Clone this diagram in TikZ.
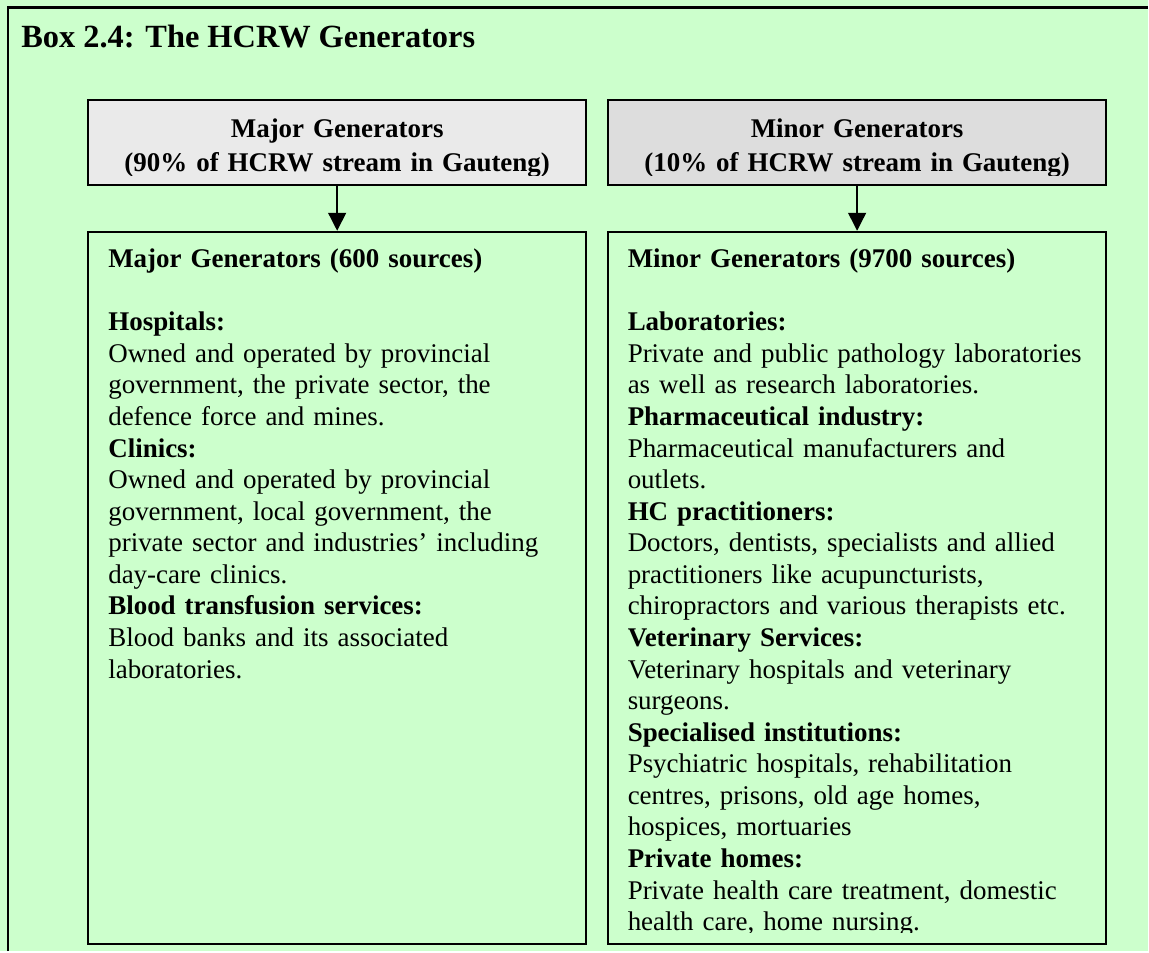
\documentclass[tikz,border=0pt]{standalone}
\usepackage{fontspec}
\setmainfont{Liberation Serif}
\usetikzlibrary{arrows.meta}

\definecolor{boxgreen}{HTML}{CCFFCC}
\definecolor{majorgray}{HTML}{EAEAEA}
\definecolor{minorgray}{HTML}{DDDDDD}
\newcommand\listfont{\fontsize{13.5pt}{15.8pt}\selectfont}

\begin{document}
\begin{tikzpicture}[x=0.5pt,y=-0.5pt,
  genbox/.style={draw,line width=1pt,inner sep=0pt,minimum width=249.5pt},
  listtext/.style={anchor=base west,inner sep=0pt,text width=245pt,align=left,font=\listfont},
  headtext/.style={anchor=base,inner sep=0pt,text width=245pt,align=center,
    font=\fontsize{13.5pt}{17pt}\selectfont\bfseries},
  down/.style={-{Triangle[width=9pt,length=9pt]},line width=0.7pt}]
\fill[boxgreen] (0,0) rectangle (1149,952);
\draw[line width=1.2pt] (8,952) -- (8,7.5) -- (1149,7.5);

\node[anchor=base west,inner sep=0pt,font=\fontsize{16.2pt}{18pt}\selectfont\bfseries]
  (title) at (21,47.5) {Box 2.4: The HCRW Generators};

% boxes
\node[genbox,fill=majorgray,minimum height=42.5pt] (majtop) at (337.5,142.5) {};
\node[genbox,fill=minorgray,minimum height=42.5pt] (mintop) at (858,142.5) {};
\node[genbox,minimum height=356.5pt] (majbox) at (337.5,588.5) {};
\node[genbox,minimum height=356.5pt] (minbox) at (858,588.5) {};

% headings, cut off at the bottom
\begin{scope}
\clip (88,100) rectangle (1107,175.5);
\node[headtext] (majhead) at (337.5,138) {Major Generators\\(90\% of HCRW stream in Gauteng)};
\node[headtext] (minhead) at (858,138) {Minor Generators\\(10\% of HCRW stream in Gauteng)};
\end{scope}

\draw[down] (majtop.south) -- (majbox.north);
\draw[down] (mintop.south) -- (minbox.north);

\node[listtext] (majlist) at (108,268) {\textbf{Major Generators (600 sources)}\\[15.8pt]
\textbf{Hospitals:}\\
Owned and operated by provincial\\
government, the private sector, the\\
defence force and mines.\\
\textbf{Clinics:}\\
Owned and operated by provincial\\
government, local government, the\\
private sector and industries’ including\\
day-care clinics.\\
\textbf{Blood transfusion services:}\\
Blood banks and its associated\\
laboratories.};

\begin{scope}
\clip (609,232) rectangle (1107,933.5);
\node[listtext] (minlist) at (628,268) {\textbf{Minor Generators (9700 sources)}\\[15.8pt]
\textbf{Laboratories:}\\
Private and public pathology laboratories\\
as well as research laboratories.\\
\textbf{Pharmaceutical industry:}\\
Pharmaceutical manufacturers and\\
outlets.\\
\textbf{HC practitioners:}\\
Doctors, dentists, specialists and allied\\
practitioners like acupuncturists,\\
chiropractors and various therapists etc.\\
\textbf{Veterinary Services:}\\
Veterinary hospitals and veterinary\\
surgeons.\\
\textbf{Specialised institutions:}\\
Psychiatric hospitals, rehabilitation\\
centres, prisons, old age homes,\\
hospices, mortuaries\\
\textbf{Private homes:}\\
Private health care treatment, domestic\\
health care, home nursing.};
\end{scope}
\end{tikzpicture}
\end{document}
